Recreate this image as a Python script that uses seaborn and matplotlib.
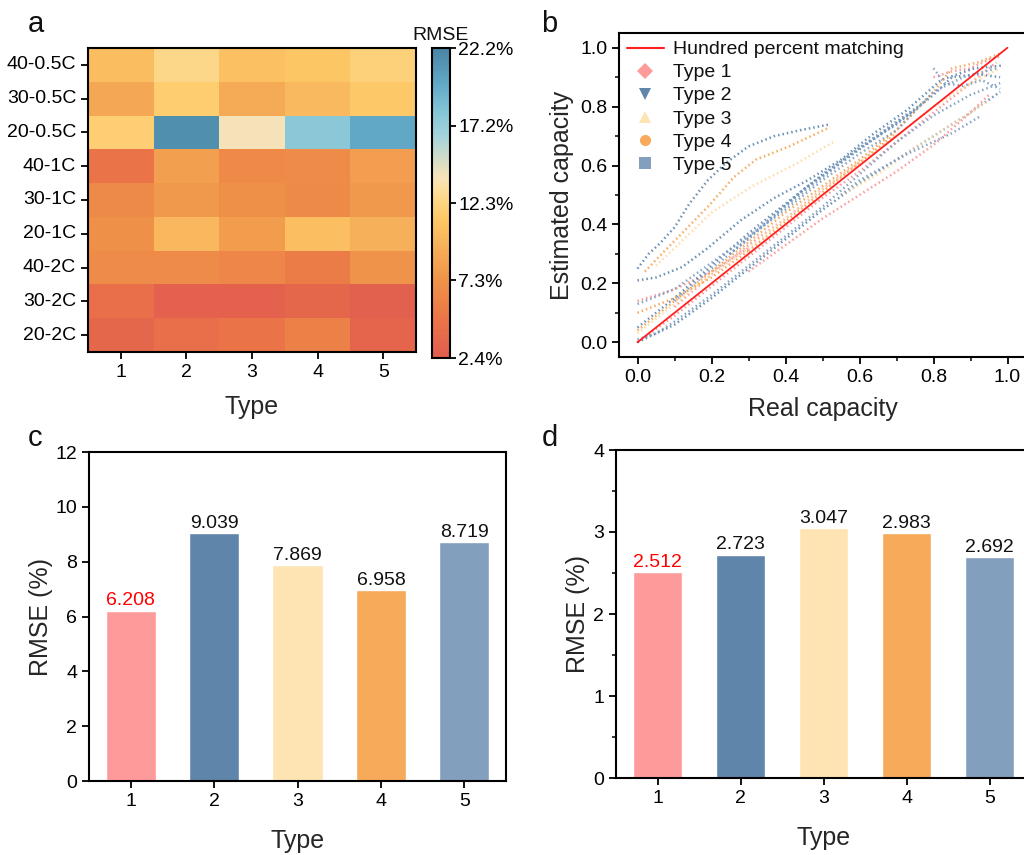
import numpy as np
import pandas as pd
import matplotlib
matplotlib.use("Agg")
import matplotlib.pyplot as plt
import seaborn as sns
from matplotlib.colors import LinearSegmentedColormap
from matplotlib.lines import Line2D
from matplotlib.ticker import MultipleLocator

# ---------------- data ----------------
TYPES = ["1", "2", "3", "4", "5"]
CONDITIONS = ["40-0.5C", "30-0.5C", "20-0.5C", "40-1C", "30-1C", "20-1C", "40-2C", "30-2C", "20-2C"]
HEAT = [
    [10.5, 12.6, 10.7, 11.2, 12.0],
    [8.9, 11.7, 9.2, 10.2, 11.4],
    [11.8, 21.5, 14.0, 17.8, 20.0],
    [4.8, 8.3, 6.6, 6.8, 8.2],
    [6.7, 7.8, 7.2, 6.7, 7.8],
    [7.2, 10.1, 8.1, 10.6, 9.5],
    [6.8, 6.8, 6.4, 5.4, 7.5],
    [4.3, 3.0, 3.0, 3.5, 2.8],
    [3.5, 4.3, 4.8, 5.9, 3.3],
]
CBAR_TICKS = [2.4, 7.35, 12.3, 17.25, 22.2]
CBAR_LABELS = ["2.4%", "7.3%", "12.3%", "17.2%", "22.2%"]

RMSE_C = [6.208, 9.039, 7.869, 6.958, 8.719]
RMSE_D = [2.512, 2.723, 3.047, 2.983, 2.692]

TYPE_COLORS = ["#fd9b9b", "#6085aa", "#fde4b2", "#f6aa5a", "#829fbd"]
SCATTER_COLORS = ["#fb9090", "#5b84ad", "#fdd9a0", "#f5a24e", "#7b9bbd"]
SCATTER_MARKERS = ["D", "v", "^", "o", "s"]

LINE_X = [0.0, 1.0]
LINE_Y = [0.0, 1.0]

# traces of estimated vs real capacity, per type
TYPE1_CURVES = [
    ([0.0, 0.1, 0.2, 0.3, 0.4, 0.5, 0.6, 0.7, 0.8, 0.9, 0.97],
     [0.0, 0.09, 0.19, 0.29, 0.39, 0.49, 0.58, 0.68, 0.78, 0.88, 0.95]),
    ([0.3, 0.4, 0.5, 0.6, 0.7, 0.8, 0.9, 0.95],
     [0.24, 0.33, 0.42, 0.50, 0.58, 0.67, 0.78, 0.84]),
    ([0.0, 0.05, 0.1, 0.2, 0.3],
     [0.14, 0.16, 0.18, 0.24, 0.32]),
    ([0.8, 0.85, 0.9, 0.95, 0.98],
     [0.90, 0.92, 0.93, 0.96, 0.97]),
    ([0.1, 0.2, 0.3, 0.4, 0.5, 0.6],
     [0.12, 0.23, 0.33, 0.42, 0.52, 0.61]),
]
TYPE2_CURVES = [
    ([0.0, 0.03, 0.06, 0.10, 0.14, 0.19, 0.24, 0.30, 0.37, 0.44, 0.52],
     [0.25, 0.30, 0.335, 0.39, 0.47, 0.55, 0.61, 0.665, 0.70, 0.72, 0.74]),
    ([0.0, 0.05, 0.12, 0.19, 0.28, 0.37, 0.46, 0.55, 0.64, 0.73, 0.82, 0.91, 0.99],
     [0.21, 0.22, 0.255, 0.32, 0.415, 0.49, 0.55, 0.62, 0.71, 0.79, 0.89, 0.93, 0.94]),
    ([0.0, 0.1, 0.2, 0.3, 0.4, 0.5, 0.6, 0.7, 0.8, 0.9, 0.98],
     [0.0, 0.06, 0.15, 0.25, 0.35, 0.45, 0.54, 0.62, 0.70, 0.78, 0.85]),
    ([0.0, 0.1, 0.2, 0.3, 0.4, 0.5, 0.6, 0.7, 0.8, 0.85, 0.92, 0.98],
     [0.05, 0.15, 0.26, 0.37, 0.47, 0.57, 0.66, 0.74, 0.84, 0.90, 0.91, 0.90]),
    ([0.25, 0.35, 0.45, 0.55, 0.65, 0.75],
     [0.30, 0.41, 0.52, 0.61, 0.70, 0.79]),
]
TYPE3_CURVES = [
    ([0.05, 0.1, 0.2, 0.31, 0.42, 0.53],
     [0.26, 0.32, 0.44, 0.53, 0.60, 0.68]),
    ([0.0, 0.1, 0.2, 0.3, 0.4, 0.5, 0.6, 0.7, 0.8, 0.9, 0.98],
     [0.03, 0.13, 0.23, 0.32, 0.42, 0.52, 0.61, 0.70, 0.80, 0.88, 0.93]),
    ([0.55, 0.65, 0.75, 0.85, 0.95],
     [0.50, 0.57, 0.66, 0.74, 0.82]),
]
TYPE4_CURVES = [
    ([0.02, 0.05, 0.12, 0.19, 0.26, 0.32, 0.41, 0.52],
     [0.24, 0.28, 0.37, 0.46, 0.56, 0.62, 0.665, 0.73]),
    ([0.0, 0.1, 0.2, 0.3, 0.4, 0.5, 0.6, 0.7, 0.8, 0.85, 0.92, 0.98],
     [0.04, 0.14, 0.24, 0.34, 0.44, 0.53, 0.62, 0.72, 0.85, 0.93, 0.95, 0.98]),
    ([0.0, 0.1, 0.2, 0.3],
     [0.10, 0.15, 0.22, 0.31]),
    ([0.3, 0.4, 0.5, 0.6, 0.7],
     [0.31, 0.41, 0.51, 0.61, 0.71]),
]
TYPE5_CURVES = [
    ([0.0, 0.05, 0.1, 0.2, 0.3, 0.4, 0.5, 0.6, 0.7, 0.8, 0.9, 0.98],
     [0.01, 0.03, 0.07, 0.16, 0.26, 0.36, 0.46, 0.57, 0.68, 0.77, 0.84, 0.88]),
    ([0.0, 0.1, 0.2, 0.3, 0.4, 0.5, 0.6, 0.7, 0.8, 0.88, 0.97],
     [0.13, 0.18, 0.27, 0.36, 0.45, 0.55, 0.64, 0.72, 0.85, 0.90, 0.93]),
    ([0.55, 0.6, 0.73, 0.85, 0.93],
     [0.50, 0.55, 0.64, 0.71, 0.77]),
    ([0.1, 0.2, 0.3, 0.4, 0.5, 0.6, 0.7, 0.78],
     [0.14, 0.25, 0.35, 0.46, 0.56, 0.66, 0.75, 0.82]),
    ([0.8, 0.83, 0.88, 0.93, 0.98],
     [0.93, 0.88, 0.87, 0.89, 0.86]),
]
ALL_CURVES = [TYPE1_CURVES, TYPE2_CURVES, TYPE3_CURVES, TYPE4_CURVES, TYPE5_CURVES]

# ---------------- style ----------------
sns.set_theme(style="ticks")
plt.rcParams["font.family"] = ["Liberation Sans", "DejaVu Sans"]
plt.rcParams["axes.linewidth"] = 1.5
plt.rcParams["xtick.major.width"] = 1.3
plt.rcParams["ytick.major.width"] = 1.3
plt.rcParams["xtick.minor.width"] = 1.1
plt.rcParams["ytick.minor.width"] = 1.1
plt.rcParams["xtick.major.size"] = 5
plt.rcParams["ytick.major.size"] = 5
plt.rcParams["xtick.minor.size"] = 3
plt.rcParams["ytick.minor.size"] = 3
plt.rcParams["xtick.direction"] = "out"
plt.rcParams["ytick.direction"] = "out"
plt.rcParams["axes.edgecolor"] = "black"
plt.rcParams["xtick.color"] = "black"
plt.rcParams["ytick.color"] = "black"
plt.rcParams["text.color"] = "#111111"

TICK_FS = 14
LABEL_FS = 18
LETTER_FS = 21

W, H = 1024, 855
fig = plt.figure(figsize=(W / 100, H / 100), dpi=100)


def box(l, t, r, b):
    return [l / W, 1 - b / H, (r - l) / W, (b - t) / H]


# ---------------- panel a: heatmap ----------------
ax_a = fig.add_axes(box(88, 48, 416, 352))
cax = fig.add_axes(box(432, 48, 450, 358))
cmap = LinearSegmentedColormap.from_list(
    "rmse",
    [
        (0.00, "#e15c4f"),
        (0.12, "#ea7447"),
        (0.25, "#ef9249"),
        (0.38, "#f8b65c"),
        (0.45, "#fdc865"),
        (0.52, "#fdd98c"),
        (0.58, "#f8e3b8"),
        (0.64, "#d4dcc6"),
        (0.72, "#a3d3dc"),
        (0.80, "#82c4d6"),
        (0.88, "#62abc8"),
        (1.00, "#4a84a5"),
    ],
)
heat_df = pd.DataFrame(HEAT, index=CONDITIONS, columns=TYPES)
sns.heatmap(heat_df, ax=ax_a, cmap=cmap, vmin=2.4, vmax=22.2, cbar_ax=cax,
            linewidths=0, square=False)
for s in ax_a.spines.values():
    s.set_visible(True)
    s.set_linewidth(1.5)
    s.set_color("black")
ax_a.tick_params(axis="both", labelsize=TICK_FS, length=5, width=1.3, color="black")
ax_a.set_yticklabels(CONDITIONS, rotation=0)
ax_a.set_xticklabels(TYPES, rotation=0)
ax_a.set_xlabel("Type", fontsize=LABEL_FS, labelpad=10)
ax_a.set_ylabel("")
cbar = ax_a.collections[0].colorbar
cbar.set_ticks(CBAR_TICKS)
cbar.set_ticklabels(CBAR_LABELS)
cbar.ax.tick_params(labelsize=TICK_FS, length=4, width=1.3, pad=2)
cbar.outline.set_linewidth(1.5)
cbar.outline.set_edgecolor("black")
cbar.ax.set_title("RMSE", fontsize=TICK_FS, pad=6)
fig.text(28 / W, 1 - 32 / H, "a", fontsize=LETTER_FS)

# ---------------- panel b: scatter traces ----------------
ax_b = fig.add_axes(box(619, 33, 1026, 357))
for t, curves in enumerate(ALL_CURVES):
    rows = []
    for k, (xs, ys) in enumerate(curves):
        for xv, yv in zip(xs, ys):
            rows.append({"x": xv, "y": yv, "curve": k})
    df = pd.DataFrame(rows)
    sns.lineplot(data=df, x="x", y="y", units="curve", estimator=None, sort=False,
                 color=SCATTER_COLORS[t], lw=1.8, linestyle=(0, (0.6, 1.2)),
                 ax=ax_b, legend=False, alpha=0.9)
ax_b.plot(LINE_X, LINE_Y, color="#ff2020", lw=1.3, zorder=10)
ax_b.set_xlim(-0.05, 1.05)
ax_b.set_ylim(-0.05, 1.05)
ax_b.xaxis.set_major_locator(MultipleLocator(0.2))
ax_b.yaxis.set_major_locator(MultipleLocator(0.2))
ax_b.xaxis.set_minor_locator(MultipleLocator(0.1))
ax_b.yaxis.set_minor_locator(MultipleLocator(0.1))
ax_b.tick_params(axis="both", which="both", labelsize=TICK_FS)
ax_b.set_xlabel("Real capacity", fontsize=LABEL_FS, labelpad=8)
ax_b.set_ylabel("Estimated capacity", fontsize=LABEL_FS, labelpad=4)
handles = [Line2D([0], [0], color="#ff2020", lw=1.5, label="Hundred percent matching")]
for t in range(5):
    handles.append(Line2D([0], [0], linestyle="none", marker=SCATTER_MARKERS[t],
                          markersize=8, color=TYPE_COLORS[t], markeredgewidth=0,
                          label=f"Type {TYPES[t]}"))
ax_b.legend(handles=handles, loc="upper left", frameon=False, fontsize=TICK_FS,
            handlelength=1.9, handletextpad=0.5, labelspacing=0.28,
            borderaxespad=0.2, borderpad=0.2)
fig.text(541 / W, 1 - 32 / H, "b", fontsize=LETTER_FS)


# ---------------- panels c and d: bars ----------------
def bar_panel(rect, values, ymax, major, minor, letter, letter_xy):
    ax = fig.add_axes(rect)
    bdf = pd.DataFrame({"Type": TYPES, "RMSE": values})
    sns.barplot(data=bdf, x="Type", y="RMSE", hue="Type", palette=TYPE_COLORS,
                width=0.6, ax=ax, legend=False, saturation=1)
    ax.set_xlim(-0.5, 4.5)
    ax.set_ylim(0, ymax)
    ax.yaxis.set_major_locator(MultipleLocator(major))
    if minor:
        ax.yaxis.set_minor_locator(MultipleLocator(minor))
    ax.tick_params(axis="both", which="both", labelsize=TICK_FS)
    ax.set_xlabel("Type", fontsize=LABEL_FS, labelpad=14)
    ax.set_ylabel("RMSE (%)", fontsize=LABEL_FS, labelpad=2)
    for i, v in enumerate(values):
        ax.annotate(f"{v:.3f}", (i, v), xytext=(0, 1), textcoords="offset points",
                    ha="center", va="bottom", fontsize=TICK_FS,
                    color="#ff0000" if i == 0 else "#111111")
    fig.text(letter_xy[0] / W, 1 - letter_xy[1] / H, letter, fontsize=LETTER_FS)
    return ax


bar_panel(box(89, 452, 506, 781), RMSE_C, 12, 2, None, "c", (28, 446))
bar_panel(box(616, 450, 1031, 778), RMSE_D, 4, 1, 0.5, "d", (542, 446))

fig.savefig("out.png", dpi=100)
